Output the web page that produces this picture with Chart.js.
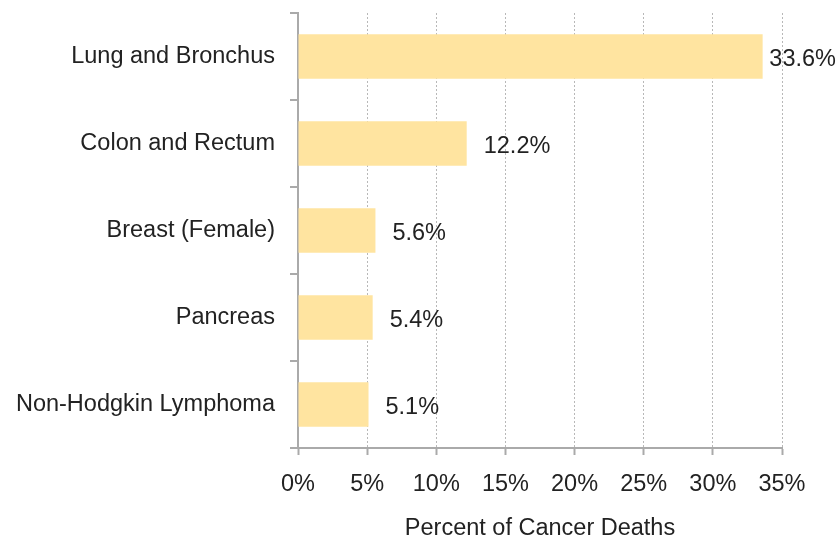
<!DOCTYPE html>
<html>
<head>
<meta charset="utf-8">
<script src="https://cdn.jsdelivr.net/npm/chart.js@4"></script>
<style>
html,body{margin:0;padding:0;background:#fff;}
#wrap{width:838px;height:539px;}
</style>
</head>
<body>
<div id="wrap"><canvas id="c" width="838" height="539"></canvas></div>
<script>
const categories = ["Lung and Bronchus", "Colon and Rectum", "Breast (Female)", "Pancreas", "Non-Hodgkin Lymphoma"];
const percentDeaths = [33.6, 12.2, 5.6, 5.4, 5.1];
const xTicks = [0, 5, 10, 15, 20, 25, 30, 35];

const FONT = "'Liberation Sans', Arial, sans-serif";
const FS = 23.5;
const labelPlugin = {
  id: 'valueLabels',
  afterDatasetsDraw(chart) {
    const ctx = chart.ctx;
    const meta = chart.getDatasetMeta(0);
    ctx.save();
    ctx.font = FS + 'px ' + FONT;
    ctx.fillStyle = '#222';
    ctx.textBaseline = 'middle';
    ctx.textAlign = 'left';
    meta.data.forEach((bar, i) => {
      const txt = percentDeaths[i].toFixed(1) + '%';
      const w = ctx.measureText(txt).width;
      let x = bar.x + 17;
      if (x + w > chart.width - 2) x = chart.width - 2 - w;
      ctx.fillText(txt, x, bar.y + 3);
    });
    ctx.restore();
  }
};

new Chart(document.getElementById('c'), {
  type: 'bar',
  data: {
    labels: categories,
    datasets: [{
      data: percentDeaths,
      backgroundColor: '#FFE4A0',
      borderWidth: 0,
      categoryPercentage: 1.0,
      barPercentage: 0.51
    }]
  },
  options: {
    indexAxis: 'y',
    responsive: false,
    animation: false,
    devicePixelRatio: 1,
    layout: { padding: { top: 13, right: 56, bottom: 0, left: 0 } },
    plugins: { legend: { display: false }, tooltip: { enabled: false } },
    scales: {
      x: {
        min: 0, max: 35,
        afterBuildTicks(axis) { axis.ticks = xTicks.map(v => ({ value: v })); },
        afterFit(axis) { axis.height = 91; axis.paddingLeft = 0; axis.paddingRight = 0; },
        ticks: {
          callback: v => v + '%',
          font: { family: FONT, size: FS },
          color: '#222',
          padding: 15,
          maxRotation: 0
        },
        grid: {
          color: '#b8b8b8',
          lineWidth: 1,
          tickLength: 7,
          tickColor: '#aaa',
          tickWidth: 2,
          tickBorderDash: []
        },
        border: { display: true, color: '#aaa', width: 2, dash: [2, 2] },
        title: {
          display: true,
          text: 'Percent of Cancer Deaths',
          font: { family: FONT, size: FS, lineHeight: 1.1 },
          color: '#222',
          padding: { top: 19, bottom: -2 }
        }
      },
      y: {
        offset: true,
        afterFit(axis) { axis.width = 298; axis.paddingTop = 0; axis.paddingBottom = 0; },
        ticks: {
          font: { family: FONT, size: FS },
          color: '#222',
          padding: 15
        },
        grid: {
          offset: true,
          drawOnChartArea: false,
          tickLength: 8,
          color: '#aaa',
          lineWidth: 2
        },
        border: { display: true, color: '#aaa', width: 2 }
      }
    }
  },
  plugins: [labelPlugin]
});
</script>
</body>
</html>
